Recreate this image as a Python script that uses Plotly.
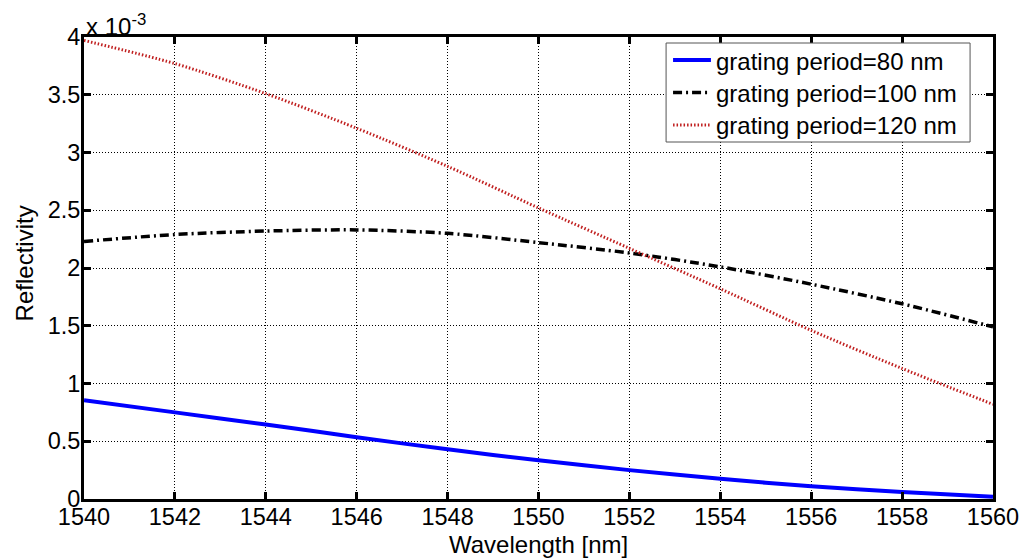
import plotly.graph_objects as go

# Wavelength sweep [nm]
wavelength = [1540, 1542, 1544, 1546, 1548, 1550, 1552, 1554, 1556, 1558, 1560]

# Reflectivity, in units of 1e-3
refl_80nm = [0.855, 0.75, 0.645, 0.535, 0.43, 0.335, 0.25, 0.175, 0.11, 0.06, 0.02]
refl_100nm = [2.23, 2.29, 2.32, 2.33, 2.30, 2.22, 2.13, 2.01, 1.86, 1.69, 1.49]
refl_120nm = [3.97, 3.77, 3.51, 3.21, 2.88, 2.52, 2.17, 1.82, 1.46, 1.13, 0.82]

series_names = ["grating period=80 nm", "grating period=100 nm", "grating period=120 nm"]
series_colors = ["#0000ff", "#000000", "#c01f1f"]
series_widths = [4, 3.5, 3]
series_dashes = ["solid", "9px,4px,2px,4px", "1.5px,2px"]

x_ticks = [1540, 1542, 1544, 1546, 1548, 1550, 1552, 1554, 1556, 1558, 1560]
y_ticks = [0, 0.5, 1, 1.5, 2, 2.5, 3, 3.5, 4]
y_tick_text = ["0", "0.5", "1", "1.5", "2", "2.5", "3", "3.5", "4"]

FONT = "Liberation Sans, Arial, sans-serif"

# Figure geometry (px)
W, H = 1031, 559
ML, MR, MT, MB = 84, 35, 37, 60
PW, PH = W - ML - MR, H - MT - MB


def px_x(p):
    return (p - ML) / PW


def px_y(p):
    return 1 - (p - MT) / PH


fig = go.Figure()
for yv, name, col, wd, ds in zip([refl_80nm, refl_100nm, refl_120nm], series_names,
                                  series_colors, series_widths, series_dashes):
    fig.add_trace(go.Scatter(
        x=wavelength, y=yv, name=name, mode="lines", showlegend=False,
        line=dict(color=col, width=wd, dash=ds, shape="spline", smoothing=0.8),
    ))

axis_common = dict(
    showline=True, linecolor="black", linewidth=3, mirror="ticks",
    ticks="inside", ticklen=7, tickwidth=3, tickcolor="black",
    showgrid=True, gridcolor="black", gridwidth=1, griddash="1px,2px",
    zeroline=False,
    tickfont=dict(family=FONT, size=23.5, color="black"),
)

fig.update_xaxes(range=[1540, 1560], tickvals=x_ticks, ticktext=[str(t) for t in x_ticks],
                 ticklabelstandoff=-5, **axis_common)
fig.update_yaxes(range=[0, 4], tickvals=y_ticks, ticktext=y_tick_text,
                 ticklabelstandoff=-4, **axis_common)

# Legend box drawn in the upper-right corner of the axes
legend_left, legend_right, legend_top, legend_bottom = 668, 973, 43, 142
row_y = [60, 92.5, 125]
sample_x0, sample_x1, text_x = 675, 713, 716

shapes = [dict(type="rect", xref="paper", yref="paper", layer="above",
               x0=px_x(legend_left), x1=px_x(legend_right),
               y0=px_y(legend_bottom), y1=px_y(legend_top),
               fillcolor="white", line=dict(color="#555555", width=1))]
annotations = []
for ry, name, col, wd, ds in zip(row_y, series_names, series_colors, series_widths, series_dashes):
    shapes.append(dict(type="line", xref="paper", yref="paper", layer="above",
                       x0=px_x(sample_x0), x1=px_x(sample_x1), y0=px_y(ry), y1=px_y(ry),
                       line=dict(color=col, width=wd, dash=ds)))
    annotations.append(dict(text=name, xref="paper", yref="paper",
                            x=px_x(text_x), y=px_y(ry + 1), xanchor="left", yanchor="middle",
                            showarrow=False, font=dict(family=FONT, size=24, color="black")))

annotations += [
    dict(text="x 10<sup>-3</sup>", xref="paper", yref="paper", x=0, y=1,
         xanchor="left", yanchor="bottom", yshift=-5, showarrow=False,
         font=dict(family=FONT, size=24, color="black")),
    dict(text="Wavelength [nm]", xref="paper", yref="paper", x=0.5, y=0,
         xanchor="center", yanchor="top", yshift=-30, showarrow=False,
         font=dict(family=FONT, size=24, color="black")),
    dict(text="Reflectivity", xref="paper", yref="paper", x=-0.066, y=0.51,
         xanchor="center", yanchor="middle", textangle=-90, showarrow=False,
         font=dict(family=FONT, size=24, color="black")),
]

fig.update_layout(
    width=W, height=H,
    margin=dict(l=ML, r=MR, t=MT, b=MB),
    paper_bgcolor="white", plot_bgcolor="white",
    font=dict(family=FONT, size=24, color="black"),
    showlegend=False,
    shapes=shapes,
    annotations=annotations,
)

fig.write_html("out.html")
